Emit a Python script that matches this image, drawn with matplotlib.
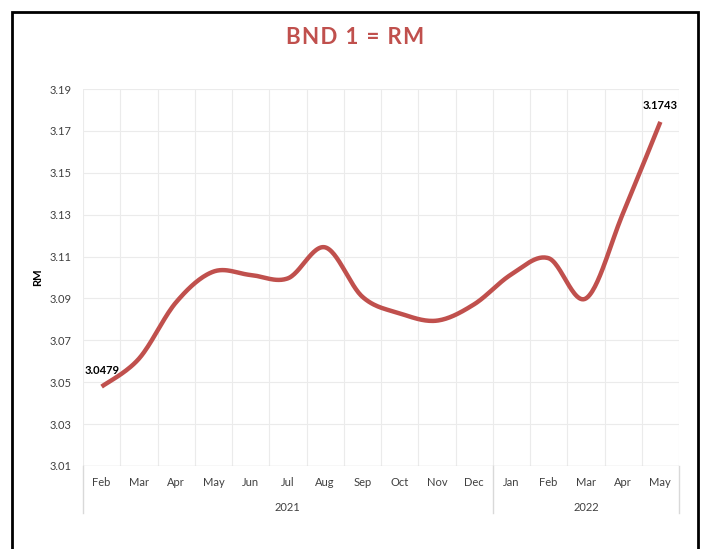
import numpy as np
import matplotlib.pyplot as plt
from matplotlib.patches import Rectangle
from matplotlib.transforms import blended_transform_factory

plt.rcParams["font.family"] = ["Lato", "DejaVu Sans"]

RED = "#C0504D"
GRID = "#EBEBEB"
AXIS = "#D9D9D9"
TXT = "#404040"

title = "BND 1 = RM"
months = ["Feb", "Mar", "Apr", "May", "Jun", "Jul", "Aug", "Sep", "Oct", "Nov", "Dec",
          "Jan", "Feb", "Mar", "Apr", "May"]
years = ["2021", "2022"]
year_counts = [11, 5]
rates = [3.0479, 3.0612, 3.0882, 3.1028, 3.1012, 3.0996, 3.1144, 3.0908,
         3.0829, 3.0794, 3.0872, 3.1015, 3.1092, 3.0900, 3.1308, 3.1743]
yticks = [3.01, 3.03, 3.05, 3.07, 3.09, 3.11, 3.13, 3.15, 3.17, 3.19]


def smooth(x, y, n=30):
    """Excel-like smoothed line: Catmull-Rom bezier through every point."""
    x = np.asarray(x, float)
    y = np.asarray(y, float)
    px = np.concatenate([[x[0]], x, [x[-1]]])
    py = np.concatenate([[y[0]], y, [y[-1]]])
    xs, ys = [], []
    t = np.linspace(0, 1, n)[:, None]
    for i in range(1, len(px) - 2):
        p0 = np.array([px[i], py[i]])
        p3 = np.array([px[i + 1], py[i + 1]])
        c1 = p0 + (p3 - np.array([px[i - 1], py[i - 1]])) / 6
        c2 = p3 - (np.array([px[i + 2], py[i + 2]]) - p0) / 6
        pts = ((1 - t) ** 3) * p0 + 3 * ((1 - t) ** 2) * t * c1 + 3 * (1 - t) * t ** 2 * c2 + t ** 3 * p3
        xs.append(pts[:, 0])
        ys.append(pts[:, 1])
    return np.concatenate(xs), np.concatenate(ys)


fig = plt.figure(figsize=(7.05, 5.49), dpi=100)
ax = fig.add_axes([83 / 705, 1 - 466 / 549, (679 - 83) / 705, (466 - 89) / 549])

x = np.arange(len(months))
sx, sy = smooth(x, rates)
ax.plot(sx, sy, color=RED, linewidth=3.2, solid_capstyle="butt", zorder=3)

ax.set_xlim(-0.5, len(months) - 0.5)
ax.set_ylim(yticks[0], yticks[-1])
ax.set_yticks(yticks)
ax.set_yticklabels([f"{v:.2f}" for v in yticks], fontsize=8, color=TXT)
ax.tick_params(axis="y", length=0, pad=8)
ax.set_xticks([])
for s in ax.spines.values():
    s.set_visible(False)
for v in yticks[1:]:
    ax.axhline(v, color=GRID, linewidth=0.8, zorder=1)
ax.axhline(yticks[0], color=AXIS, linewidth=1, zorder=2)
for b in np.arange(-0.5, len(months), 1.0):
    ax.axvline(b, color=GRID, linewidth=0.8, zorder=1)

ax.set_ylabel("RM", fontsize=8, fontweight="bold", color="black", labelpad=5)

tr = blended_transform_factory(ax.transData, ax.transAxes)
for i, m in enumerate(months):
    ax.text(i, -0.043, m, transform=tr, ha="center", va="center", fontsize=8, color=TXT)
start = 0
seps = [-0.5]
for yr, c in zip(years, year_counts):
    ax.text(start + (c - 1) / 2, -0.11, yr, transform=tr, ha="center", va="center",
            fontsize=8, color=TXT)
    start += c
    seps.append(start - 0.5)
for b in seps:
    ax.plot([b, b], [0, -0.125], transform=tr, color=AXIS, linewidth=1, clip_on=False)

ax.annotate(f"{rates[0]:.4f}", (x[0], rates[0]), xytext=(-12.5, 11.5), textcoords="offset points",
            ha="left", va="center", fontsize=8, fontweight="bold", color="black")
ax.annotate(f"{rates[-1]:.4f}", (x[-1], rates[-1]), xytext=(0, 12), textcoords="offset points",
            ha="center", va="center", fontsize=8, fontweight="bold", color="black")

# Excel title has expanded character spacing: pad with hair spaces
fig.text(355 / 705, 1 - 37 / 549, "\u200a".join(title), ha="center", va="center",
         fontsize=16, fontweight="bold", color=RED)

fig.patches.append(Rectangle((12 / 705, -0.05), (698 - 12) / 705, 1 - 12 / 549 + 0.05,
                             transform=fig.transFigure, fill=False, edgecolor="black",
                             linewidth=2))

fig.savefig("out.png", dpi=100, facecolor="white")
